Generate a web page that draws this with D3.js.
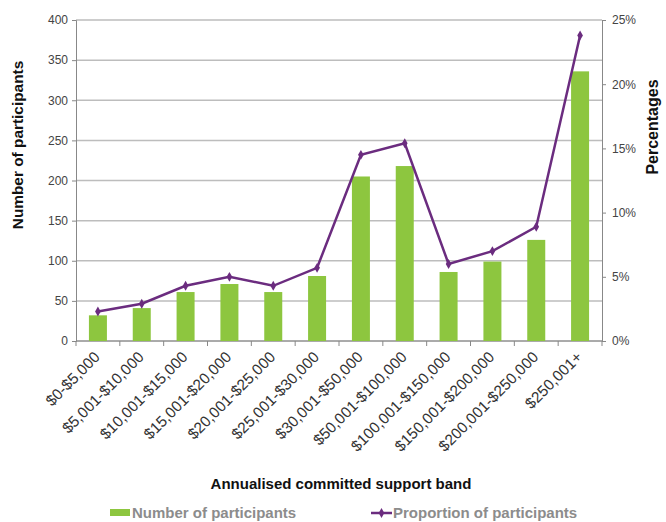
<!DOCTYPE html>
<html>
<head>
<meta charset="utf-8">
<script src="https://cdn.jsdelivr.net/npm/d3@7"></script>
<style>
  html, body { margin: 0; background: #fff; overflow: hidden; }
  svg { display: block; font-family: "Liberation Sans", Arial, sans-serif; }
  .tick text { fill: #444; font-size: 12px; }
</style>
</head>
<body>
<div id="chart"></div>
<script>
// Data
const BANDS = ["$0-$5,000", "$5,001-$10,000", "$10,001-$15,000", "$15,001-$20,000",
    "$20,001-$25,000", "$25,001-$30,000", "$30,001-$50,000", "$50,001-$100,000",
    "$100,001-$150,000", "$150,001-$200,000", "$200,001-$250,000", "$250,001+"];
const COUNTS = [32, 41, 61, 71, 61, 81, 205, 218, 86, 99, 126, 336];
const PROPORTIONS = [2.3, 2.9, 4.3, 5.0, 4.3, 5.7, 14.5, 15.4, 6.0, 7.0, 8.9, 23.8];
const COUNT_TICKS = [0, 50, 100, 150, 200, 250, 300, 350, 400];
const PCT_TICKS = [0, 5, 10, 15, 20, 25];

const width = 666;
const height = 522;
const margin = ({top: 20, right: 64, bottom: 181, left: 76});
const innerWidth = width - margin.left - margin.right;
const innerHeight = height - margin.top - margin.bottom;

const svg = d3.select("#chart")
    .append("svg")
    .attr("width", width)
    .attr("height", height);

const root = svg.append("g")
    .attr("transform", `translate(${margin.left}, ${margin.top})`);

const xScale = d3.scaleBand()
    .domain(BANDS)
    .range([0, innerWidth]);

const yScale = d3.scaleLinear()
    .domain([0, 400])
    .range([innerHeight, 0]);

const pScale = d3.scaleLinear()
    .domain([0, 25])
    .range([innerHeight, 0]);

// Gridlines
root.append("g")
    .selectAll("line")
    .data(COUNT_TICKS)
  .enter().append("line")
    .attr("x1", 0)
    .attr("x2", innerWidth)
    .attr("y1", d => yScale(d))
    .attr("y2", d => yScale(d))
    .attr("stroke", "#bdbdbd")
    .attr("stroke-width", 1.5);

// Left axis
const yAxis = root.append("g")
    .call(d3.axisLeft(yScale).tickValues(COUNT_TICKS).tickSize(4).tickPadding(4));
yAxis.select(".domain").attr("stroke", "#888");
yAxis.selectAll(".tick line").attr("stroke", "#888");

// Right axis
const pAxis = root.append("g")
    .attr("transform", `translate(${innerWidth}, 0)`)
    .call(d3.axisRight(pScale).tickValues(PCT_TICKS).tickFormat(d => d + "%").tickSize(4).tickPadding(6));
pAxis.select(".domain").attr("stroke", "#888");
pAxis.selectAll(".tick line").attr("stroke", "#888");

// Bottom axis, ticks between categories
const xAxis = root.append("g")
    .attr("transform", `translate(0, ${innerHeight})`);
xAxis.append("line")
    .attr("x1", 0).attr("x2", innerWidth)
    .attr("stroke", "#888");
xAxis.selectAll(".xtick")
    .data(d3.range(BANDS.length + 1))
  .enter().append("line")
    .attr("x1", i => i * xScale.step())
    .attr("x2", i => i * xScale.step())
    .attr("y1", 0)
    .attr("y2", 5)
    .attr("stroke", "#888");
xAxis.selectAll(".xlabel")
    .data(BANDS)
  .enter().append("text")
    .attr("transform", d => `translate(${xScale(d) + xScale.bandwidth() / 2 + 3}, 17) rotate(-45)`)
    .attr("text-anchor", "end")
    .attr("fill", "#333")
    .attr("font-size", "15.4px")
    .text(d => d);

// Bars
const barWidth = 18;
root.append("g")
    .selectAll("rect")
    .data(COUNTS)
  .enter().append("rect")
    .attr("x", (d, i) => xScale(BANDS[i]) + xScale.bandwidth() / 2 - barWidth / 2)
    .attr("y", d => yScale(d))
    .attr("width", barWidth)
    .attr("height", d => innerHeight - yScale(d))
    .attr("fill", "#8dc63f");

// Line
const lineGenerator = d3.line()
    .x((d, i) => xScale(BANDS[i]) + xScale.bandwidth() / 2)
    .y(d => pScale(d));

root.append("path")
    .datum(PROPORTIONS)
    .attr("d", lineGenerator)
    .attr("fill", "none")
    .attr("stroke", "#6b2c7f")
    .attr("stroke-width", 2.5);

root.append("g")
    .selectAll("path")
    .data(PROPORTIONS)
  .enter().append("path")
    .attr("transform", (d, i) => `translate(${xScale(BANDS[i]) + xScale.bandwidth() / 2}, ${pScale(d)})`)
    .attr("d", d3.symbol(d3.symbolDiamond, 28))
    .attr("fill", "#6b2c7f");

// Axis titles
svg.append("text")
    .attr("transform", `translate(23, 145) rotate(-90)`)
    .attr("text-anchor", "middle")
    .attr("font-size", "15.4px")
    .attr("font-weight", "bold")
    .attr("fill", "#111")
    .text("Number of participants");

svg.append("text")
    .attr("transform", `translate(658, 127) rotate(-90)`)
    .attr("text-anchor", "middle")
    .attr("font-size", "16px")
    .attr("font-weight", "bold")
    .attr("fill", "#111")
    .text("Percentages");

svg.append("text")
    .attr("x", 341)
    .attr("y", 489)
    .attr("text-anchor", "middle")
    .attr("font-size", "15px")
    .attr("font-weight", "bold")
    .attr("fill", "#111")
    .text("Annualised committed support band");

// Legend
const legend = svg.append("g");
legend.append("rect")
    .attr("x", 110).attr("y", 509)
    .attr("width", 20).attr("height", 7)
    .attr("fill", "#8dc63f");
legend.append("text")
    .attr("x", 132).attr("y", 518)
    .attr("font-size", "15px")
    .attr("font-weight", "bold")
    .attr("fill", "#8c8c8c")
    .text("Number of participants");
legend.append("line")
    .attr("x1", 371).attr("x2", 392)
    .attr("y1", 513).attr("y2", 513)
    .attr("stroke", "#6b2c7f")
    .attr("stroke-width", 2.5);
legend.append("path")
    .attr("transform", "translate(381.5, 513)")
    .attr("d", d3.symbol(d3.symbolDiamond, 28))
    .attr("fill", "#6b2c7f");
legend.append("text")
    .attr("x", 393).attr("y", 518)
    .attr("font-size", "15px")
    .attr("font-weight", "bold")
    .attr("fill", "#8c8c8c")
    .text("Proportion of participants");
</script>
</body>
</html>
